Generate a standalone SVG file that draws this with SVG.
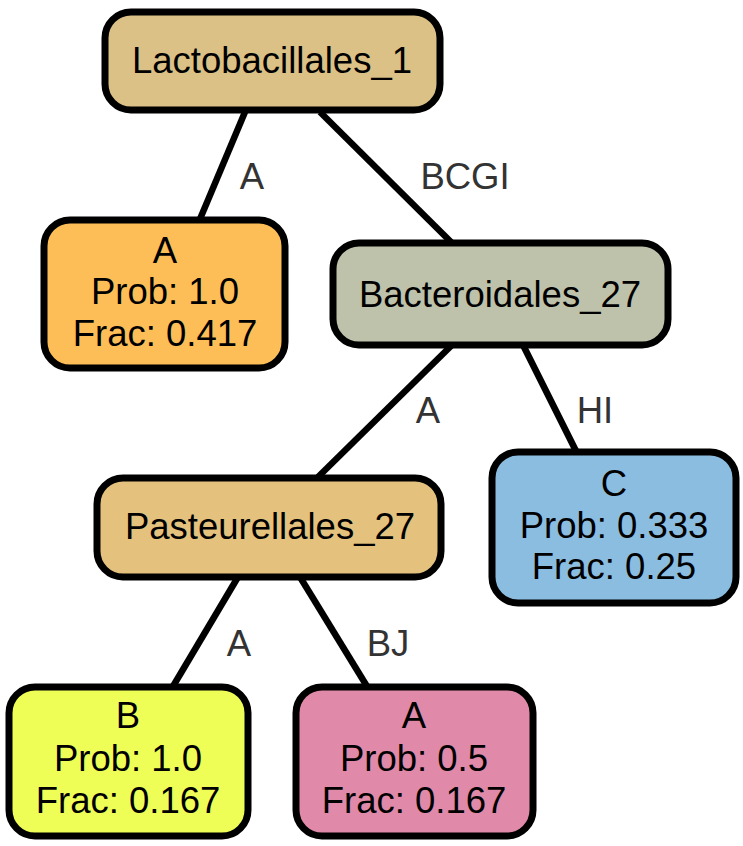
<svg xmlns="http://www.w3.org/2000/svg" width="743" height="846" viewBox="0 0 743 846">
<style>
.n{stroke:#000;stroke-width:7}
.t{font-family:"Liberation Sans",Arial,sans-serif;font-size:36.5px;fill:#000;text-anchor:middle}
.e{stroke:#000;stroke-width:6.5;fill:none}
.l{font-family:"Liberation Sans",Arial,sans-serif;font-size:36.5px;fill:#333;text-anchor:middle}
</style>
<rect width="743" height="846" fill="#fff"/>
<g id="connectors">
<line class="e" x1="245" y1="112" x2="200" y2="219"/>
<text class="l" x="252" y="189">A</text>
<line class="e" x1="320" y1="112" x2="452" y2="243"/>
<text class="l" x="465" y="189">BCGI</text>
<line class="e" x1="452" y1="345" x2="318" y2="477"/>
<text class="l" x="428" y="423">A</text>
<line class="e" x1="523" y1="345" x2="578" y2="455"/>
<text class="l" x="595" y="423">HI</text>
<line class="e" x1="238" y1="577" x2="172" y2="688"/>
<text class="l" x="239" y="656">A</text>
<line class="e" x1="300" y1="577" x2="368" y2="688"/>
<text class="l" x="388" y="656">BJ</text>
</g>
<g id="n1">
<rect class="n" x="105" y="12" width="335" height="98" rx="26" fill="#dbc185"/>
<text class="t" x="272" y="73">Lactobacillales_1</text>
</g>
<g id="n2">
<rect class="n" x="44" y="220" width="241" height="148" rx="26" fill="#fdbe58"/>
<text class="t" x="165" y="263">A</text>
<text class="t" x="165" y="304">Prob: 1.0</text>
<text class="t" x="165" y="346">Frac: 0.417</text>
</g>
<g id="n3">
<rect class="n" x="333" y="243" width="335" height="102" rx="26" fill="#bec2aa"/>
<text class="t" x="500" y="307">Bacteroidales_27</text>
</g>
<g id="n4">
<rect class="n" x="97" y="478" width="344" height="99" rx="26" fill="#e4c27e"/>
<text class="t" x="270" y="539">Pasteurellales_27</text>
</g>
<g id="n5">
<rect class="n" x="492" y="452" width="244" height="151" rx="26" fill="#8bbde0"/>
<text class="t" x="614" y="496">C</text>
<text class="t" x="614" y="538">Prob: 0.333</text>
<text class="t" x="614" y="579">Frac: 0.25</text>
</g>
<g id="n6">
<rect class="n" x="9" y="687" width="239" height="149" rx="26" fill="#eefe56"/>
<text class="t" x="128" y="728">B</text>
<text class="t" x="128" y="771">Prob: 1.0</text>
<text class="t" x="128" y="813">Frac: 0.167</text>
</g>
<g id="n7">
<rect class="n" x="296" y="687" width="237" height="149" rx="26" fill="#e089a9"/>
<text class="t" x="414" y="728">A</text>
<text class="t" x="414" y="771">Prob: 0.5</text>
<text class="t" x="414" y="813">Frac: 0.167</text>
</g>
</svg>
